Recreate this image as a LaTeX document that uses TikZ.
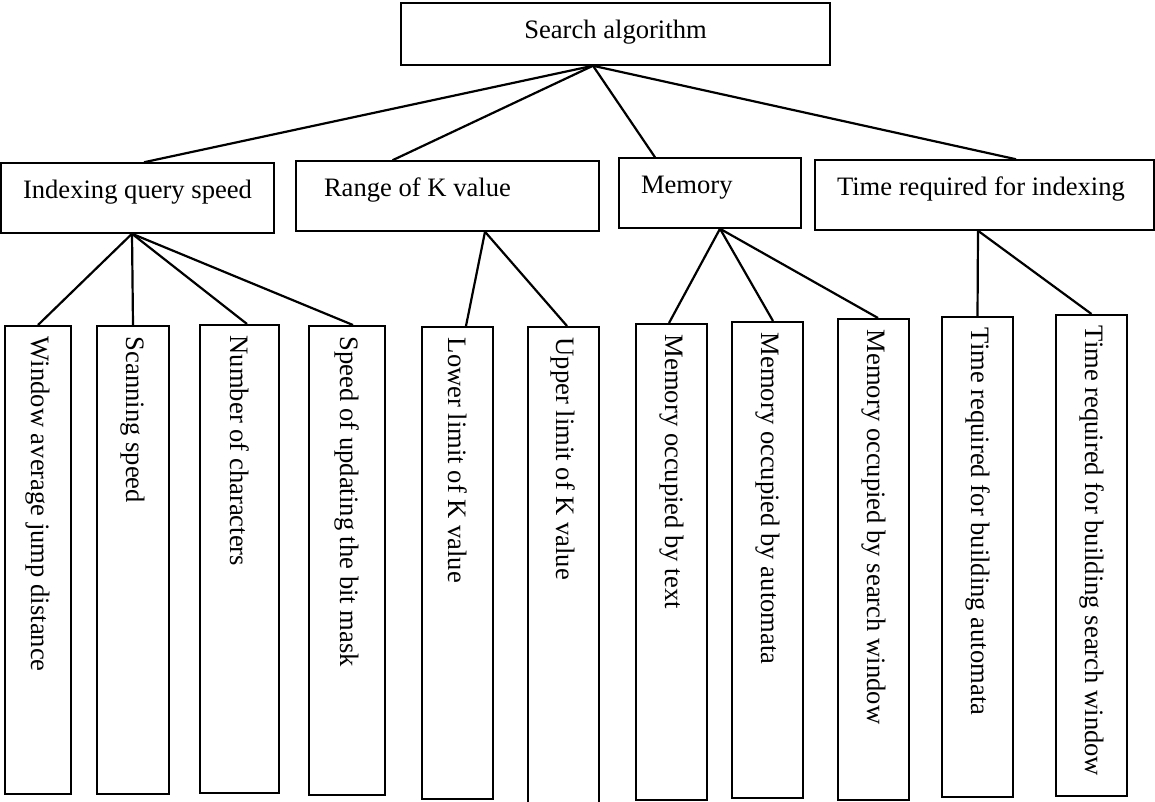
\documentclass[tikz,border=0pt]{standalone}
\usepackage{fontspec}
\setmainfont{Liberation Serif}

\begin{document}
\begin{tikzpicture}[x=1pt, y=-1pt,
  font=\fontsize{26.6}{32}\selectfont,
  box/.style={draw, line width=1.5pt, inner sep=0pt},
  group/.style={box, minimum height=70pt, text height=18pt, text depth=18pt, inner xsep=22pt},
  leaf/.style={box, rotate=-90, anchor=west, minimum height=71pt, inner xsep=11pt, text width=#1, align=flush left},
  link/.style={line width=2.2pt}]
%\draw [lightgray, step=50pt](0,0) grid (1155,801);
\useasboundingbox (0,0) rectangle (1155,801);

\node [box, minimum width=429pt, minimum height=62pt, text height=18pt, text depth=10pt] (root) at (615.5,34) {Search algorithm};

\node [group, minimum width=273pt]                               (speed)  at ( 137.5,198) {Indexing query speed};
\node [group, text width=247pt, align=flush left, inner xsep=28pt] (range)  at ( 447.5,196) {Range of K value};
\node [group, text width=138pt, align=flush left]                (memory) at ( 710  ,193) {Memory};
\node [group, text width=295pt, align=flush left]                (time)   at ( 984.5,195) {Time required for indexing};

\node [leaf=446pt, minimum height=66pt] (jump)     at (  38  ,325) {Window average jump distance};
\node [leaf=446pt, minimum height=72pt] (scan)     at ( 133  ,325) {Scanning speed};
\node [leaf=446pt, minimum height=79pt] (chars)    at ( 239.5,324) {Number of characters};
\node [leaf=447pt, minimum height=76pt] (bitmask)  at ( 347  ,325) {Speed of updating the bit mask};
\node [leaf=450pt]                      (lower)    at ( 457.5,326) {Lower limit of K value};
\node [leaf=460pt]                      (upper)    at ( 563.5,326) {Upper limit of K value};
\node [leaf=454pt]                      (memtext)  at ( 671.5,323) {Memory occupied by text};
\node [leaf=454pt]                      (memauto)  at ( 767.5,321) {Memory occupied by automata};
\node [leaf=459pt]                      (memwin)   at ( 873.5,318) {Memory occupied by search window};
\node [leaf=458pt]                      (timeauto) at ( 977.5,316) {Time required for building automata};
\node [leaf=459pt]                      (timewin)  at (1091.5,314) {Time required for building search window};

\draw [link]([xshift=-22.5pt]root.south) -- ([xshift=6.5pt]speed.north);
\draw [link]([xshift=-22.5pt]root.south) -- ([xshift=-55pt]range.north);
\draw [link]([xshift=-22.5pt]root.south) -- ([xshift=-55pt]memory.north);
\draw [link]([xshift=-22.5pt]root.south) -- ([xshift=31.5pt]time.north);

\draw [link]([xshift=-5.5pt]speed.south) -- (jump.west);
\draw [link]([xshift=-5.5pt]speed.south) -- (scan.west);
\draw [link]([xshift=-5.5pt]speed.south) -- ([xshift=7.5pt]chars.west);
\draw [link]([xshift=-5.5pt]speed.south) -- ([xshift=6pt]bitmask.west);

\draw [link]([xshift=37.5pt]range.south) -- ([xshift=8.5pt]lower.west);
\draw [link]([xshift=37.5pt]range.south) -- ([xshift=3.5pt]upper.west);

\draw [link]([xshift=10pt]memory.south) -- ([xshift=-2.5pt]memtext.west);
\draw [link]([xshift=10pt]memory.south) -- ([xshift=5.5pt]memauto.west);
\draw [link]([xshift=10pt]memory.south) -- ([xshift=4.5pt]memwin.west);

\draw [link]([xshift=-6.5pt]time.south) -- (timeauto.west);
\draw [link]([xshift=-6.5pt]time.south) -- (timewin.west);
\end{tikzpicture}
\end{document}
